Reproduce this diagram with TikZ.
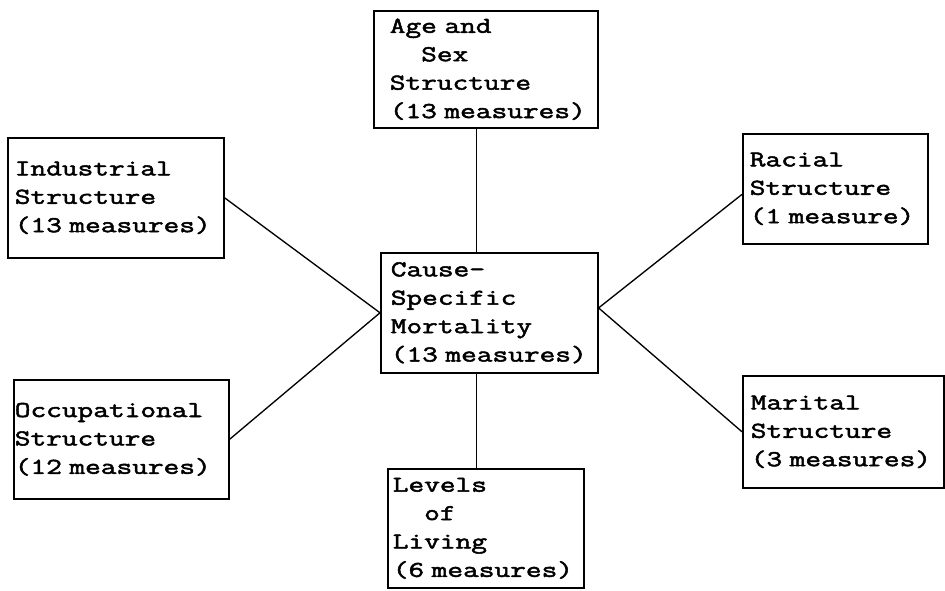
\documentclass[tikz,border=0pt]{standalone}
\usepackage{fontspec}
\newfontfamily\tw[FakeStretch=1.345,FakeBold=2.2]{Latin Modern Mono}
\usetikzlibrary{calc}
\newcommand\boxfont{\tw\fontsize{17pt}{21.3pt}\selectfont
  \fontdimen2\font=12pt\relax\fontdimen3\font=0pt\relax\fontdimen4\font=0pt\relax}
\newcommand\tline[1]{\hbox to \hsize{#1\hss}}
\newcommand\stack[1]{\vbox{\baselineskip=21.3pt\lineskiplimit=-20pt #1}}
\begin{document}
\begin{tikzpicture}[x=0.75pt,y=-0.75pt,
  box/.style={draw,line width=1.2pt,anchor=north west,inner ysep=0pt,font=\boxfont},
  link/.style={line width=1pt}]
\useasboundingbox[fill=white] (0,0) rectangle (945,591);
\node[box,minimum width=168pt,minimum height=87.75pt,inner xsep=12pt,text width=144pt] (age) at (373,10)
  {\stack{\tline{Age and}\tline{\phantom{xx}Sex}\tline{Structure}\tline{(13 measures)}}};
\node[box,minimum width=162pt,minimum height=90pt,inner xsep=5.25pt,text width=151.5pt] (ind) at (7,137)
  {\stack{\tline{Industrial}\tline{Structure}\tline{(13 measures)}}};
\node[box,minimum width=162.75pt,minimum height=90pt,inner xsep=7.5pt,text width=147.75pt] (ctr) at (380,252)
  {\stack{\tline{Cause-}\tline{Specific}\tline{Mortality}\tline{(13 measures)}}};
\node[box,minimum width=138.75pt,minimum height=82.5pt,inner xsep=5.25pt,text width=128.25pt] (rac) at (742,133)
  {\stack{\tline{Racial}\tline{Structure}\tline{(1 measure)}}};
\node[box,minimum width=161.25pt,minimum height=89.25pt,inner xsep=0.75pt,text width=159.75pt] (occ) at (13,379)
  {\stack{\tline{Occupational}\tline{Structure}\tline{(12 measures)}}};
\node[box,minimum width=150.75pt,minimum height=84pt,inner xsep=6pt,text width=138.75pt] (mar) at (742,375)
  {\stack{\tline{Marital}\tline{Structure}\tline{(3 measures)}}};
\node[box,minimum width=147pt,minimum height=89.25pt,inner xsep=3.75pt,text width=139.5pt] (liv) at (387,468)
  {\stack{\tline{Levels}\tline{\phantom{xx}of}\tline{Living}\tline{(6 measures)}}};
% connectors
\draw[link] ($(age.south west)!0.46!(age.south east)$) coordinate (a1) -- (a1 |- ctr.north);
\draw[link] ($(liv.north west)!0.454!(liv.north east)$) coordinate (l1) -- (l1 |- ctr.south);
\draw[link] (ind.east) -- (ctr.west);
\draw[link] (occ.east) -- (ctr.west);
\draw[link] ($(ctr.north east)!0.46!(ctr.south east)$) coordinate (r1) -- ($(rac.north west)!0.55!(rac.south west)$);
\draw[link] (r1) -- (mar.west);
\end{tikzpicture}
\end{document}
